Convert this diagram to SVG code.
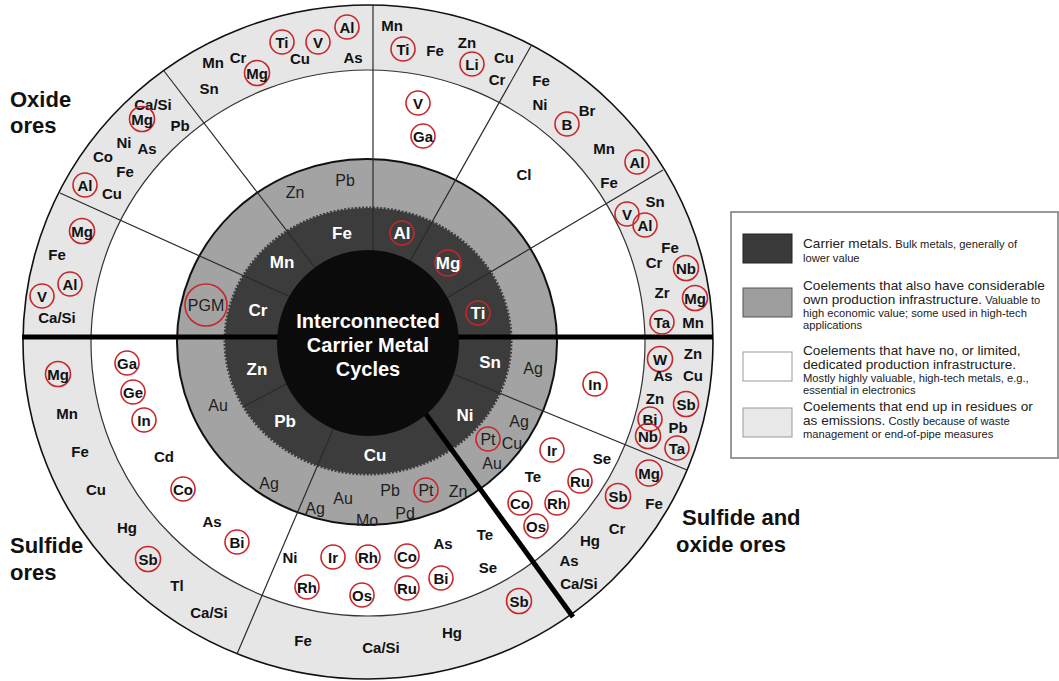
<svg xmlns="http://www.w3.org/2000/svg" width="1059" height="681" viewBox="0 0 1059 681">
<style>
text{font-family:"Liberation Sans",Arial,sans-serif}
.l{font-weight:bold;font-size:15px;fill:#111;text-anchor:middle;dominant-baseline:central}
.d{font-weight:bold;font-size:17px;fill:#fff;text-anchor:middle;dominant-baseline:central}
.g{font-size:16px;fill:#1e1e1e;text-anchor:middle;dominant-baseline:central}
.h{font-weight:bold;font-size:22px;fill:#111}
.c{fill:none;stroke:#c8262b;stroke-width:1.6}
.thin{stroke:#2a2a2a;stroke-width:1.2;fill:none}
.thick{stroke:#000;stroke-width:5;fill:none}
.ct{font-weight:bold;font-size:20px;fill:#fff;text-anchor:middle}
.lg{font-size:13.6px;fill:#222}
.sm{font-size:11.2px}
</style>
<rect width="1059" height="681" fill="#fff"/>
<g id="rings">
<ellipse cx="368" cy="342" rx="345" ry="337" fill="#e6e6e6" stroke="#111" stroke-width="1.6"/>
<ellipse cx="368" cy="343" rx="277" ry="273" fill="#fff" stroke="#333" stroke-width="1.2"/>
<ellipse cx="367" cy="342" rx="190" ry="183" fill="#a3a3a3" stroke="#111" stroke-width="2"/>
<ellipse cx="368" cy="341" rx="143" ry="133" fill="#3c3c3c" stroke="#3c3c3c" stroke-width="3" stroke-dasharray="2 1.6"/>
</g>
<g id="connectors">
<line class="thin" x1="373" y1="5" x2="373" y2="260"/>
<line class="thin" x1="164" y1="71" x2="320" y2="274"/>
<line class="thin" x1="60" y1="193" x2="295" y2="299"/>
<line class="thin" x1="531" y1="46" x2="405" y2="270"/>
<line class="thin" x1="663" y1="170" x2="440" y2="302"/>
<line class="thin" x1="448" y1="372" x2="687" y2="470"/>
<line class="thin" x1="337" y1="420" x2="237" y2="654"/>
<line class="thin" x1="292" y1="381" x2="243" y2="407"/>
<line class="thick" x1="22" y1="337" x2="713" y2="337"/>
<line class="thick" x1="420" y1="406" x2="573" y2="617"/>
</g>
<g id="center">
<ellipse cx="368" cy="343" rx="91" ry="93" fill="#0b0b0b"/>
<text class="ct" x="368" y="328">Interconnected</text>
<text class="ct" x="368" y="352">Carrier Metal</text>
<text class="ct" x="368" y="376">Cycles</text>
</g>
<g id="headers">
<text class="h" x="10" y="107">Oxide</text>
<text class="h" x="10" y="133">ores</text>
<text class="h" x="10" y="553">Sulfide</text>
<text class="h" x="10" y="580">ores</text>
<text class="h" x="682" y="525">Sulfide and</text>
<text class="h" x="676" y="552">oxide ores</text>
</g>
<g id="sector-top-left">
<text class="l" x="213" y="62">Mn</text><text class="l" x="238" y="57">Cr</text>
<circle class="c" cx="282" cy="42" r="12"/><text class="l" x="282" y="42">Ti</text>
<text class="l" x="300" y="58">Cu</text>
<circle class="c" cx="318" cy="42" r="12"/><text class="l" x="318" y="42">V</text>
<circle class="c" cx="347" cy="27" r="12"/><text class="l" x="347" y="27">Al</text>
<text class="l" x="353" y="57">As</text>
<text class="l" x="209" y="88">Sn</text>
<circle class="c" cx="257" cy="73" r="12.5"/><text class="l" x="257" y="73">Mg</text>
<text class="g" x="295" y="192">Zn</text><text class="g" x="345" y="180">Pb</text>
<text class="d" x="342" y="233">Fe</text>
</g>
<g id="sector-left-upper">
<text class="l" x="153" y="104">Ca/Si</text>
<circle class="c" cx="142" cy="119" r="12.5"/><text class="l" x="142" y="119">Mg</text>
<text class="l" x="180" y="125">Pb</text>
<text class="l" x="124" y="142">Ni</text><text class="l" x="147" y="148">As</text>
<text class="l" x="103" y="156">Co</text><text class="l" x="125" y="171">Fe</text>
<circle class="c" cx="85" cy="185" r="12"/><text class="l" x="85" y="185">Al</text>
<text class="l" x="112" y="193">Cu</text>
<text class="d" x="282" y="262">Mn</text>
</g>
<g id="sector-left">
<circle class="c" cx="82" cy="231" r="12.5"/><text class="l" x="82" y="231">Mg</text>
<text class="l" x="57" y="254">Fe</text>
<circle class="c" cx="70" cy="284" r="12"/><text class="l" x="70" y="284">Al</text>
<circle class="c" cx="42" cy="296" r="12"/><text class="l" x="42" y="296">V</text>
<text class="l" x="57" y="317">Ca/Si</text>
<circle class="c" cx="206" cy="305" r="21"/><text class="g" x="206" y="305">PGM</text>
<text class="d" x="258" y="310">Cr</text>
</g>
<g id="sector-top-right">
<text class="l" x="392" y="25">Mn</text>
<circle class="c" cx="403" cy="49" r="12"/><text class="l" x="403" y="49">Ti</text>
<text class="l" x="435" y="50">Fe</text><text class="l" x="467" y="42">Zn</text>
<circle class="c" cx="472" cy="64" r="12"/><text class="l" x="472" y="64">Li</text>
<text class="l" x="504" y="57">Cu</text><text class="l" x="497" y="79">Cr</text>
<circle class="c" cx="418" cy="103" r="12"/><text class="l" x="418" y="103">V</text>
<circle class="c" cx="423" cy="136" r="12"/><text class="l" x="423" y="136">Ga</text>
<circle class="c" cx="402" cy="233" r="12"/><text class="d" x="402" y="233">Al</text>
</g>
<g id="sector-right-upper">
<text class="l" x="541" y="80">Fe</text><text class="l" x="540" y="104">Ni</text>
<text class="l" x="587" y="110">Br</text>
<circle class="c" cx="567" cy="124" r="12"/><text class="l" x="567" y="124">B</text>
<text class="l" x="604" y="148">Mn</text>
<circle class="c" cx="637" cy="162" r="12"/><text class="l" x="637" y="162">Al</text>
<text class="l" x="609" y="182">Fe</text>
<text class="l" x="524" y="174">Cl</text>
<circle class="c" cx="448" cy="263" r="13"/><text class="d" x="448" y="263">Mg</text>
</g>
<g id="sector-right">
<text class="l" x="655" y="201">Sn</text>
<circle class="c" cx="627" cy="214" r="12"/><text class="l" x="627" y="214">V</text>
<circle class="c" cx="645" cy="225" r="12"/><text class="l" x="645" y="225">Al</text>
<text class="l" x="670" y="247">Fe</text><text class="l" x="654" y="262">Cr</text>
<circle class="c" cx="686" cy="268" r="12.5"/><text class="l" x="686" y="268">Nb</text>
<text class="l" x="662" y="292">Zr</text>
<circle class="c" cx="695" cy="298" r="12.5"/><text class="l" x="695" y="298">Mg</text>
<circle class="c" cx="662" cy="322" r="12"/><text class="l" x="662" y="322">Ta</text>
<text class="l" x="693" y="322">Mn</text>
<circle class="c" cx="478" cy="313" r="12"/><text class="d" x="478" y="313">Ti</text>
</g>
<g id="sector-lower-left">
<circle class="c" cx="58" cy="374" r="12.5"/><text class="l" x="58" y="374">Mg</text>
<text class="l" x="67" y="413">Mn</text><text class="l" x="80" y="451">Fe</text>
<text class="l" x="96" y="489">Cu</text><text class="l" x="127" y="527">Hg</text>
<circle class="c" cx="148" cy="559" r="12.5"/><text class="l" x="148" y="559">Sb</text>
<text class="l" x="177" y="585">Tl</text><text class="l" x="209" y="612">Ca/Si</text>
<circle class="c" cx="127" cy="363" r="12"/><text class="l" x="127" y="363">Ga</text>
<circle class="c" cx="133" cy="392" r="12"/><text class="l" x="133" y="392">Ge</text>
<circle class="c" cx="144" cy="420" r="12"/><text class="l" x="144" y="420">In</text>
<text class="l" x="164" y="456">Cd</text>
<circle class="c" cx="183" cy="489" r="12"/><text class="l" x="183" y="489">Co</text>
<text class="l" x="212" y="521">As</text>
<circle class="c" cx="237" cy="542" r="12"/><text class="l" x="237" y="542">Bi</text>
<text class="g" x="218" y="405">Au</text><text class="g" x="269" y="483">Ag</text>
<text class="d" x="257" y="369">Zn</text><text class="d" x="285" y="421">Pb</text>
</g>
<g id="sector-bottom">
<text class="g" x="315" y="508">Ag</text><text class="g" x="343" y="498">Au</text>
<text class="g" x="367" y="520">Mo</text><text class="g" x="390" y="490">Pb</text>
<circle class="c" cx="426" cy="490" r="12"/><text class="g" x="426" y="490">Pt</text>
<text class="g" x="458" y="491">Zn</text><text class="g" x="405" y="513">Pd</text>
<text class="d" x="375" y="455">Cu</text>
<text class="l" x="290" y="557">Ni</text>
<circle class="c" cx="333" cy="557" r="12"/><text class="l" x="333" y="557">Ir</text>
<circle class="c" cx="368" cy="557" r="12"/><text class="l" x="368" y="557">Rh</text>
<circle class="c" cx="307" cy="587" r="12"/><text class="l" x="307" y="587">Rh</text>
<circle class="c" cx="362" cy="595" r="12"/><text class="l" x="362" y="595">Os</text>
<circle class="c" cx="407" cy="556" r="12"/><text class="l" x="407" y="556">Co</text>
<circle class="c" cx="407" cy="588" r="12"/><text class="l" x="407" y="588">Ru</text>
<text class="l" x="443" y="543">As</text>
<circle class="c" cx="441" cy="578" r="12"/><text class="l" x="441" y="578">Bi</text>
<text class="l" x="485" y="534">Te</text><text class="l" x="488" y="567">Se</text>
<text class="l" x="303" y="640">Fe</text><text class="l" x="381" y="647">Ca/Si</text>
<text class="l" x="452" y="632">Hg</text>
<circle class="c" cx="519" cy="601" r="12.5"/><text class="l" x="519" y="601">Sb</text>
</g>
<g id="sector-lower-right">
<text class="d" x="465" y="415">Ni</text>
<circle class="c" cx="488" cy="439" r="12"/><text class="g" x="488" y="439">Pt</text>
<text class="g" x="512" y="443">Cu</text><text class="g" x="519" y="421">Ag</text>
<text class="g" x="492" y="463">Au</text>
<circle class="c" cx="552" cy="450" r="12"/><text class="l" x="552" y="450">Ir</text>
<text class="l" x="602" y="458">Se</text><text class="l" x="533" y="476">Te</text>
<circle class="c" cx="580" cy="481" r="12"/><text class="l" x="580" y="481">Ru</text>
<circle class="c" cx="520" cy="503" r="12"/><text class="l" x="520" y="503">Co</text>
<circle class="c" cx="557" cy="503" r="12"/><text class="l" x="557" y="503">Rh</text>
<circle class="c" cx="536" cy="526" r="12"/><text class="l" x="536" y="526">Os</text>
<circle class="c" cx="649" cy="473" r="13"/><text class="l" x="649" y="473">Mg</text>
<circle class="c" cx="618" cy="496" r="12.5"/><text class="l" x="618" y="496">Sb</text>
<text class="l" x="654" y="503">Fe</text><text class="l" x="617" y="528">Cr</text>
<text class="l" x="590" y="540">Hg</text><text class="l" x="569" y="560">As</text>
<text class="l" x="579" y="583">Ca/Si</text>
</g>
<g id="sector-right-lower">
<text class="d" x="490" y="362">Sn</text>
<text class="g" x="533" y="368">Ag</text>
<circle class="c" cx="595" cy="384" r="12"/><text class="l" x="595" y="384">In</text>
<circle class="c" cx="660" cy="359" r="12.5"/><text class="l" x="660" y="359">W</text>
<text class="l" x="693" y="353">Zn</text><text class="l" x="663" y="375">As</text>
<text class="l" x="693" y="375">Cu</text><text class="l" x="655" y="398">Zn</text>
<circle class="c" cx="686" cy="404" r="12.5"/><text class="l" x="686" y="404">Sb</text>
<circle class="c" cx="650" cy="419" r="12"/><text class="l" x="650" y="419">Bi</text>
<text class="l" x="678" y="427">Pb</text>
<circle class="c" cx="648" cy="436" r="12.5"/><text class="l" x="648" y="436">Nb</text>
<circle class="c" cx="677" cy="448" r="12"/><text class="l" x="677" y="448">Ta</text>
</g>
<g id="legend">
<rect x="731" y="212" width="327" height="246" fill="#fff" stroke="#777" stroke-width="1.5"/>
<rect x="743" y="234" width="49" height="29" fill="#3a3a3a" stroke="#222" stroke-width="1"/>
<rect x="743" y="288" width="49" height="29" fill="#9e9e9e" stroke="#555" stroke-width="1"/>
<rect x="743" y="352" width="49" height="29" fill="#fff" stroke="#999" stroke-width="1"/>
<rect x="743" y="408" width="49" height="29" fill="#e8e8e8" stroke="#999" stroke-width="1"/>
<text class="lg" x="803" y="248">Carrier metals.<tspan class="sm"> Bulk metals, generally of</tspan></text>
<text class="lg sm" x="803" y="262">lower value</text>
<text class="lg" x="803" y="290">Coelements that also have considerable</text>
<text class="lg" x="803" y="304">own production infrastructure.<tspan class="sm"> Valuable to</tspan></text>
<text class="lg sm" x="803" y="317">high economic value; some used in high-tech</text>
<text class="lg sm" x="803" y="329">applications</text>
<text class="lg" x="803" y="355">Coelements that have no, or limited,</text>
<text class="lg" x="803" y="369">dedicated production infrastructure.</text>
<text class="lg sm" x="803" y="382">Mostly highly valuable, high-tech metals, e.g.,</text>
<text class="lg sm" x="803" y="394">essential in electronics</text>
<text class="lg" x="803" y="411">Coelements that end up in residues or</text>
<text class="lg" x="803" y="425">as emissions.<tspan class="sm"> Costly because of waste</tspan></text>
<text class="lg sm" x="803" y="438">management or end-of-pipe measures</text>
</g>
</svg>
